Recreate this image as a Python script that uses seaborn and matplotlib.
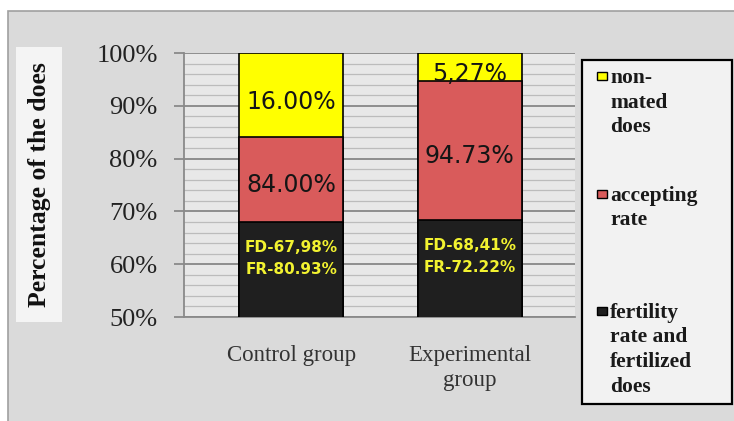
import matplotlib
matplotlib.use("Agg")
import matplotlib.pyplot as plt
import seaborn as sns
import pandas as pd
from matplotlib.patches import Rectangle
from matplotlib.ticker import MultipleLocator, FixedLocator

# ---- data ----
groups = ["Control group", "Experimental\ngroup"]
fertilized = [67.98, 68.41]          # black segment top
accepting = [84.00, 94.73]           # red segment top
non_mated = [16.00, 5.27]            # yellow segment size
fd_labels = ["FD-67,98%", "FD-68,41%"]
fr_labels = ["FR-80.93%", "FR-72.22%"]
accept_labels = ["84.00%", "94.73%"]
nonmated_labels = ["16.00%", "5,27%"]
legend_labels = ["non-\nmated\ndoes", "accepting\nrate",
                 "fertility\nrate and\nfertilized\ndoes"]
ytick_values = [50, 60, 70, 80, 90, 100]
ytick_labels = ["50%", "60%", "70%", "80%", "90%", "100%"]

c_yellow = "#ffff00"
c_red = "#d95b5b"
c_black = "#1f1f1f"

W, H = 734, 421
fig = plt.figure(figsize=(W / 100, H / 100), dpi=100, facecolor="white")

def fx(px):
    return px / W

def fy(py):
    return 1 - py / H

# outer chart background
fig.patches.append(Rectangle((fx(8), fy(430)), fx(740), 419 / H,
                             transform=fig.transFigure, facecolor="#dadada",
                             edgecolor="#a0a0a0", linewidth=1.2, zorder=-10))

ax = fig.add_axes([fx(184), fy(317), fx(575 - 184), (317 - 53) / H])
ax.set_zorder(2)
ax.set_facecolor("#e8e8e8")

df = pd.DataFrame({
    "group": groups,
    "top_yellow": [a + n for a, n in zip(accepting, non_mated)],
    "top_red": accepting,
    "top_black": fertilized,
})

bw = 0.583
for col, c in [("top_yellow", c_yellow), ("top_red", c_red), ("top_black", c_black)]:
    sns.barplot(data=df, x="group", y=col, color=c, width=bw, edgecolor="black",
                linewidth=1.2, saturation=1, ax=ax, zorder=3)

ax.set_ylim(50, 100)
ax.set_xlim(-0.6, 1.59)
ax.yaxis.set_major_locator(FixedLocator(ytick_values))
ax.set_yticklabels(ytick_labels)
ax.yaxis.set_minor_locator(MultipleLocator(2))
ax.set_axisbelow(True)
ax.grid(axis="y", which="major", color="#8e8e8e", linewidth=1.4, zorder=1)
ax.grid(axis="y", which="minor", color="#bcbcbc", linewidth=0.9, zorder=1)
ax.grid(axis="x", visible=False)
for s in ["top", "right"]:
    ax.spines[s].set_visible(False)
for s in ["left", "bottom"]:
    ax.spines[s].set_color("#8a8a8a")
    ax.spines[s].set_linewidth(1.3)
ax.tick_params(axis="y", which="major", length=7, color="#8a8a8a", width=1.3,
               pad=12, labelsize=19, labelcolor="#222222")
ax.tick_params(axis="y", which="minor", length=0)
ax.tick_params(axis="x", length=0, pad=20, labelsize=16.5, labelcolor="#333333")
for lab in ax.get_yticklabels() + ax.get_xticklabels():
    lab.set_fontfamily("Liberation Serif")
for lab in ax.get_xticklabels():
    lab.set_linespacing(1.25)
ax.set_xlabel("")
ax.set_ylabel("")

# value labels
for i in range(len(groups)):
    ax.text(i, accepting[i] + non_mated[i] / 2 - 1.3, nonmated_labels[i],
            ha="center", va="center", fontsize=17, color="#151515",
            family="DejaVu Sans", zorder=5)
    ax.text(i, (fertilized[i] + accepting[i]) / 2 - 1.0, accept_labels[i],
            ha="center", va="center", fontsize=17, color="#151515",
            family="DejaVu Sans", zorder=5)
    ax.text(i, fertilized[i] - 4.8, fd_labels[i], ha="center", va="center",
            fontsize=11, color="#f2f230", fontweight="bold",
            family="DejaVu Sans", zorder=5)
    ax.text(i, fertilized[i] - 9.0, fr_labels[i], ha="center", va="center",
            fontsize=11, color="#f2f230", fontweight="bold",
            family="DejaVu Sans", zorder=5)

# y-axis title in its own light box
fig.patches.append(Rectangle((fx(16), fy(322)), fx(46), (322 - 47) / H,
                             transform=fig.transFigure, facecolor="#f4f4f4",
                             edgecolor="none", zorder=1))
fig.text(fx(40), fy(185), "Percentage of the does", rotation=90, ha="center",
         va="center", fontsize=18.5, fontweight="bold", family="Liberation Serif",
         color="#111111", zorder=2)

# legend box
fig.patches.append(Rectangle((fx(582), fy(404)), fx(150), (404 - 60) / H,
                             transform=fig.transFigure, facecolor="#f2f2f2",
                             edgecolor="black", linewidth=1.6, zorder=1))
legend_colors = [c_yellow, c_red, c_black]
legend_first_line = [77, 195, 312]
for lab, col, yc in zip(legend_labels, legend_colors, legend_first_line):
    fig.patches.append(Rectangle((fx(597), fy(yc + 3)), fx(10), 8 / H,
                                 transform=fig.transFigure, facecolor=col,
                                 edgecolor="black", linewidth=1.0, zorder=2))
    fig.text(fx(610), fy(yc - 9), lab, ha="left", va="top", fontsize=15.5,
             fontweight="bold", family="Liberation Serif", color="#1a1a1a",
             linespacing=1.3, zorder=3)

fig.savefig("out.png", dpi=100, facecolor=fig.get_facecolor())
